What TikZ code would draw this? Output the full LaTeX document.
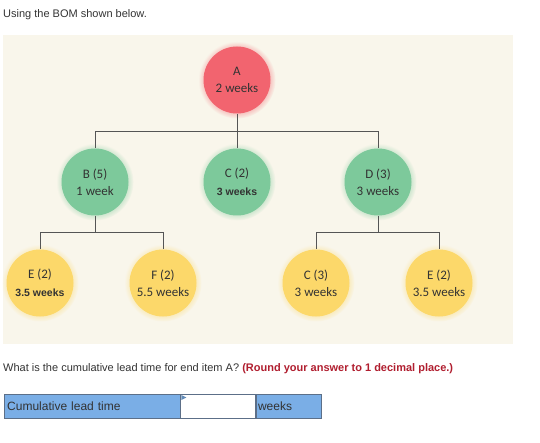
\documentclass[tikz,border=0pt]{standalone}
\usepackage{fontspec}
\setmainfont{Liberation Sans}
\newfontfamily\bomfont{Carlito}
\usetikzlibrary{shadows,positioning}
\definecolor{rose}{HTML}{F2646F}
\definecolor{mint}{HTML}{7DC99B}
\definecolor{butter}{HTML}{FCD86A}
\definecolor{panel}{HTML}{F9F6EB}
\definecolor{wire}{HTML}{555555}
\definecolor{ink}{HTML}{333333}
\definecolor{cell}{HTML}{7AAEE6}
\definecolor{cellline}{HTML}{5C6F88}
\definecolor{hint}{HTML}{B01E2F}

\begin{document}
\begin{tikzpicture}[x=1pt,y=-1pt,
  every node/.style={inner sep=0pt,text=ink},
  item/.style={circle,minimum size=67pt,align=center,
    font=\bomfont\fontsize{13}{17}\selectfont},
  top/.style={item,fill=rose,circular glow={fill=rose,opacity=0.35,shadow scale=1.15}},
  mid/.style={item,fill=mint,circular glow={fill=mint,opacity=0.35,shadow scale=1.15}},
  low/.style={item,fill=butter,circular glow={fill=butter,opacity=0.35,shadow scale=1.15}},
  ln/.style={draw=wire,line width=0.8pt},
  txt/.style={anchor=base west,font=\fontsize{11}{13}\selectfont},
  box/.style={draw=cellline,fill=cell,minimum height=24pt,anchor=north west,
    font=\fontsize{12}{14}\selectfont,text depth=0pt}]
  \useasboundingbox (0,0) rectangle (540,443);
  \node[txt] (intro) at (3,18) {Using the BOM shown below.};
  \fill[panel] (3,35) rectangle (513,344);

  % product structure
  \node[top] (A) at (237,80) {A\\2 weeks};
  \node[mid] (B) at (95,182) {B (5)\\1 week};
  \node[mid] (C) at (237,182) {C (2)\\[1pt]{\bfseries\fontsize{10.5}{12}\selectfont\rmfamily 3 weeks}};
  \node[mid] (D) at (378,182) {D (3)\\3 weeks};
  \node[low] (E1) at (40,283) {E (2)\\[1pt]{\bfseries\fontsize{10.5}{12}\selectfont\rmfamily 3.5 weeks}};
  \node[low] (F) at (163,283) {F (2)\\5.5 weeks};
  \node[low] (C3) at (316,283) {C (3)\\3 weeks};
  \node[low] (E2) at (439,283) {E (2)\\3.5 weeks};

  \draw[ln] (A.south) -- ++(0,18) coordinate (ja);
  \draw[ln] (ja) -| (B.north);
  \draw[ln] (ja) -| (D.north);
  \draw[ln] (ja) -- (C.north);
  \draw[ln] (B.south) -- ++(0,17) coordinate (jb);
  \draw[ln] (jb) -| (E1.north);
  \draw[ln] (jb) -| (F.north);
  \draw[ln] (D.south) -- ++(0,17) coordinate (jd);
  \draw[ln] (jd) -| (C3.north);
  \draw[ln] (jd) -| (E2.north);

  % question
  \node[txt] (ask) at (3,371) {What is the cumulative lead time for end item A?
    {\color{hint}\bfseries (Round your answer to 1 decimal place.)}};
  \node[box,minimum width=176pt,text width=170pt,align=left] (lab) at (4,394) {Cumulative lead time};
  \node[box,fill=white,draw=cellline,minimum width=75pt] (ans) at (lab.north east) {};
  \node[box,minimum width=65pt,text width=61pt,align=left] (unit) at (ans.north east) {weeks};
  \fill[cell!80!black] (ans.north west) ++(1,1) -- ++(5,2.5) -- ++(-5,2.5) -- cycle;
\end{tikzpicture}
\end{document}
